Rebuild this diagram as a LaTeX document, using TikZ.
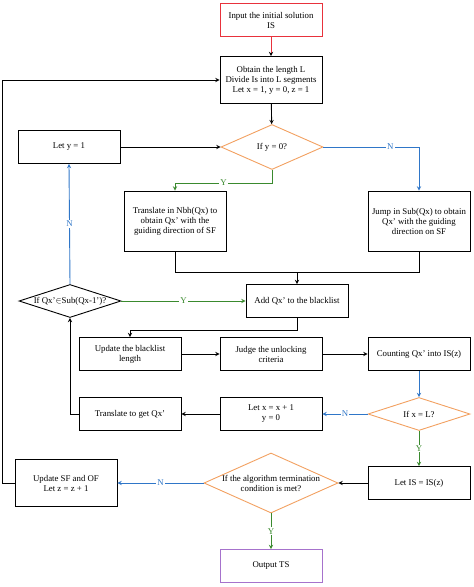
\documentclass[tikz,border=0pt]{standalone}
\usepackage{fontspec}
\setmainfont{Liberation Serif}
\usetikzlibrary{shapes.geometric}
\definecolor{flowred}{HTML}{E8323C}
\definecolor{flowblue}{HTML}{2F76C8}
\definecolor{flowgreen}{HTML}{3A8A2E}
\definecolor{floworange}{HTML}{F2A060}
\definecolor{flowpurple}{HTML}{A672CC}

\begin{document}
\begin{tikzpicture}
            [->, >=stealth, x=1pt, y=-1pt, line width=0.9pt, font=\fontsize{8.8}{10}\selectfont,
             box/.style={shape=rectangle, draw=black, minimum width=102pt, minimum height=33pt, align=center, inner sep=1pt},
             ask/.style={shape=diamond, draw=floworange, minimum width=102pt, minimum height=33pt, inner sep=0pt},
             tag/.style={fill=white, inner sep=1pt}]
            \useasboundingbox (0,0) rectangle (474,587);
            \node[box,draw=flowred] (input) at (271, 20) {Input the initial solution\\IS};
            \node[box,minimum height=47pt] (obtain) at (271, 80) {Obtain the length L\\Divide Is into L segments\\Let x = 1, y = 0, z = 1};
            \node[ask,minimum height=45pt] (ify) at (272, 147) {};
            \node at (ify.center) {If y = 0?};
            \node[box] (lety) at (69, 147) {Let y = 1};
            \node[box,minimum height=60pt] (trans) at (175, 221) {Translate in Nbh(Qx) to\\obtain Qx' with the\\guiding direction of SF};
            \node[box,minimum height=60pt] (jump) at (419, 221) {Jump in Sub(Qx) to obtain\\Qx' with the guiding\\direction on SF};
            \node[box] (add) at (297, 301) {Add Qx' to the blacklist};
            \node[ask,draw=black] (qin) at (70, 301) {};
            \node at (qin.center) {If Qx'$\in$Sub(Qx-1')?};
            \node[box] (upd) at (130, 354) {Update the blacklist\\length};
            \node[box] (judge) at (271, 354) {Judge the unlocking\\criteria};
            \node[box] (count) at (419, 354) {Counting Qx' into IS(z)};
            \node[ask] (ifx) at (419, 414) {};
            \node at (ifx.center) {If x = L?};
            \node[box] (letx) at (271, 414) {Let x = x + 1\\y = 0};
            \node[box] (getq) at (130, 414) {Translate to get Qx'};
            \node[box] (letis) at (419, 483) {Let IS = IS(z)};
            \node[ask,minimum width=134pt,minimum height=60pt] (term) at (271, 483) {};
            \node[align=center] at (term.center) {If the algorithm termination\\condition is met?};
            \node[box,minimum height=47pt] (upsf) at (66, 483) {Update SF and OF\\Let z = z + 1};
            \node[box,draw=flowpurple] (output) at (271, 566) {Output TS};

            \coordinate (merge) at (297, 272);

            \path [->,draw=flowred] (input) edge (obtain);
            \path [->] (obtain) edge (ify);
            \path [->] (lety) edge (ify);
            \draw [->,flowblue] (ify.east) -| node[tag,pos=0.35] {N} (jump.north);
            \draw [->,flowgreen] (ify.south) -- ++(0,13) -| node[tag,pos=0.25] {Y} (trans.north);
            \draw [-] (trans.south) -- (trans.south |- merge) -| (jump.south);
            \draw [->] (merge) -- (add.north);
            \draw [->,flowgreen] (qin.east) -- node[tag] {Y} (add.west);
            \draw [->,flowblue] (qin.north) -- node[tag] {N} (lety.south);
            \draw [->] (add.south) -- ++(0,12) -| (upd.north);
            \path [->] (upd) edge (judge);
            \path [->] (judge) edge (count);
            \draw [->,flowblue] (count) -- (ifx);
            \draw [->,flowblue] (ifx.west) -- node[tag] {N} (letx.east);
            \path [->] (letx) edge (getq);
            \draw [->] (getq.west) -| (qin.south);
            \draw [->,flowgreen] (ifx.south) -- node[tag] {Y} (letis.north);
            \draw [->] (letis.west) -- (term.east);
            \draw [->,flowblue] (term.west) -- node[tag] {N} (upsf.east);
            \draw [->,flowgreen] (term.south) -- node[tag] {Y} (output.north);
            \draw [->] (upsf.west) -- ++(-12,0) |- (obtain.west);
        \end{tikzpicture}
\end{document}
